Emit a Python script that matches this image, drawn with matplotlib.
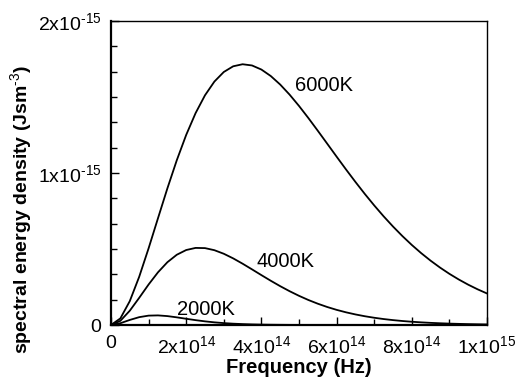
import matplotlib
matplotlib.use("Agg")
import matplotlib.pyplot as plt
from matplotlib.ticker import MultipleLocator

plt.rcParams['font.family'] = ['Liberation Sans', 'DejaVu Sans']
plt.rcParams['mathtext.fontset'] = 'custom'
plt.rcParams['mathtext.rm'] = 'Liberation Sans'
plt.rcParams['mathtext.it'] = 'Liberation Sans:italic'
plt.rcParams['mathtext.bf'] = 'Liberation Sans:bold'

# frequencia em unidades de 1e14 Hz, densidade em unidades de 1e-15
freq = [0, 0.25, 0.5, 0.75, 1, 1.25, 1.5, 1.75, 2, 2.25, 2.5, 2.75, 3, 3.25, 3.5, 3.75,
        4, 4.25, 4.5, 4.75, 5, 5.25, 5.5, 5.75, 6, 6.25, 6.5, 6.75, 7, 7.25, 7.5, 7.75,
        8, 8.25, 8.5, 8.75, 9, 9.25, 9.5, 9.75, 10]

u6000 = [0, 0.0436, 0.1571, 0.3171, 0.5043, 0.7025, 0.8990, 1.0841, 1.2507, 1.3941,
         1.5114, 1.6016, 1.6647, 1.7021, 1.7156, 1.7076, 1.6807, 1.6379, 1.5820, 1.5156,
         1.4413, 1.3614, 1.2780, 1.1930, 1.1077, 1.0235, 0.9415, 0.8623, 0.7868, 0.7152,
         0.6479, 0.5850, 0.5266, 0.4727, 0.4232, 0.3779, 0.3366, 0.2992, 0.2653, 0.2348,
         0.2074]

u4000 = [0, 0.0276, 0.0940, 0.1786, 0.2664, 0.3467, 0.4131, 0.4622, 0.4933, 0.5072,
         0.5059, 0.4922, 0.4687, 0.4383, 0.4034, 0.3661, 0.3282, 0.2910, 0.2555, 0.2224,
         0.1920, 0.1645, 0.1401, 0.1185, 0.0997, 0.0835, 0.0696, 0.0577, 0.0477, 0.0392,
         0.0322, 0.0263, 0.0214, 0.0174, 0.0141, 0.0114, 0.0092, 0.0074, 0.0059, 0.0048,
         0.0038]

u2000 = [0, 0.0118, 0.0333, 0.0516, 0.0617, 0.0632, 0.0586, 0.0504, 0.0410, 0.0319,
         0.0240, 0.0175, 0.0125, 0.0087, 0.0060, 0.0040, 0.0027, 0.0018, 0.0012, 0.0007,
         0.0005, 0.0003, 0.0002, 0.0001, 0.0001, 0.0, 0.0, 0.0, 0.0, 0.0,
         0.0, 0.0, 0.0, 0.0, 0.0, 0.0, 0.0, 0.0, 0.0, 0.0,
         0.0]

rotulos = ['6000K', '4000K', '2000K']
xticks = [0, 2e14, 4e14, 6e14, 8e14, 1e15]
xlabels = ['0', '2x10$^{14}$', '4x10$^{14}$', '6x10$^{14}$', '8x10$^{14}$', '1x10$^{15}$']
yticks = [0, 1e-15, 2e-15]
ylabels = ['0', '1x10$^{\u201015}$', '2x10$^{\u201015}$']

x = [f * 1e14 for f in freq]

fig = plt.figure(figsize=(5.23, 3.87), dpi=100)
ax = fig.add_axes([0.2122, 0.1602, 0.7190, 0.7855])

for serie in [u6000, u4000, u2000]:
    ax.plot(x, [v * 1e-15 for v in serie], color='black', lw=1.3)

ax.text(4.89e14, 1.54e-15, rotulos[0], fontsize=14.5)
ax.text(3.86e14, 0.38e-15, rotulos[1], fontsize=14.5)
ax.text(1.75e14, 0.065e-15, rotulos[2], fontsize=14.5)

ax.set_xlim(0, 1e15)
ax.set_ylim(0, 2e-15)
ax.set_xticks(xticks)
ax.set_xticklabels(xlabels, fontsize=14)
ax.set_yticks(yticks)
ax.set_yticklabels(ylabels, fontsize=14)
ax.xaxis.set_minor_locator(MultipleLocator(1e14))
ax.yaxis.set_minor_locator(MultipleLocator(1e-15 / 6))
ax.tick_params(which='both', direction='in', top=False, right=False)
ax.tick_params(which='major', length=6, width=1, pad=7)
ax.tick_params(which='minor', length=4, width=1)

ax.spines['left'].set_linewidth(1.6)
ax.spines['bottom'].set_linewidth(1.6)
ax.spines['top'].set_linewidth(1.0)
ax.spines['right'].set_linewidth(1.0)

ax.set_xlabel('Frequency (Hz)', fontsize=14.5, fontweight='bold', labelpad=1)
ax.set_ylabel('spectral energy density (Jsm$^{\u20103}$)', fontsize=14, fontweight='bold')
ax.yaxis.set_label_coords(-0.205, 0.38)

plt.savefig('out.png', dpi=100)
